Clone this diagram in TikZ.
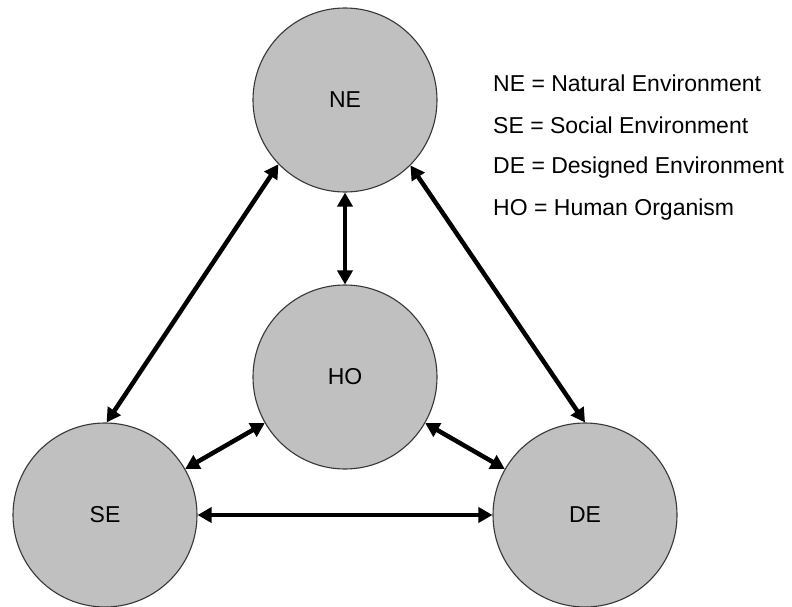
\documentclass[tikz,border=0pt]{standalone}
\usepackage{fontspec}
\setmainfont{Liberation Sans}
\usetikzlibrary{arrows.meta}
\definecolor{circfill}{RGB}{192,192,192}
\definecolor{circline}{RGB}{55,55,55}
\tikzset{
  env/.style={circle, draw=circline, line width=1.1pt, fill=circfill, minimum size=184pt, inner sep=0pt, font=\fontsize{23}{27}\selectfont},
  link/.style={line width=4.5pt, {Triangle[length=14pt,width=15pt]}-{Triangle[length=14pt,width=15pt]}},
  legend/.style={anchor=base west, inner sep=0pt, font=\fontsize{23}{27}\selectfont}
}
\begin{document}
\begin{tikzpicture}[x=1pt,y=1pt]
\useasboundingbox[fill=white] (0,0) rectangle (792,-607);
\node[env] (NE) at (345,-100) {NE};
\node[env] (HO) at (345,-377) {HO};
\node[env] (SE) at (105,-515) {SE};
\node[env] (DE) at (585,-515) {DE};
\draw[link] (NE) -- (HO);
\draw[link] (NE.224) -- (SE.89);
\draw[link] (NE.315) -- (DE.90);
\draw[link] (HO) -- (SE);
\draw[link] (HO) -- (DE);
\draw[link] (SE) -- (DE);
\node[legend] (l1) at (493,-92) {NE = Natural Environment};
\node[legend] (l2) at (493,-133) {SE = Social Environment};
\node[legend] (l3) at (493,-173) {DE = Designed Environment};
\node[legend] (l4) at (493,-215) {HO = Human Organism};
\end{tikzpicture}
\end{document}
